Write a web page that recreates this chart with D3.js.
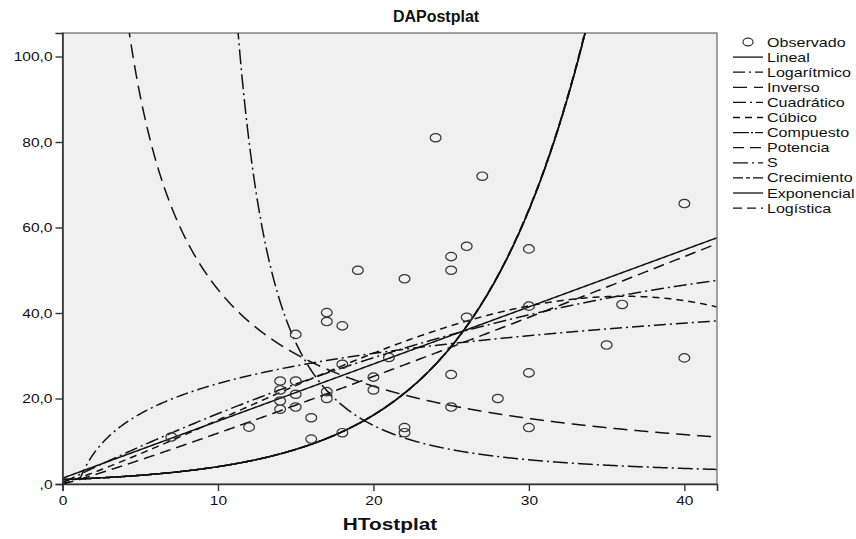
<!DOCTYPE html>
<html>
<head>
<meta charset="utf-8">
<script src="https://cdn.jsdelivr.net/npm/d3@7"></script>
<style>
  body { margin: 0; background: #fff; }
  text { font-family: "Liberation Sans", Arial, sans-serif; fill: #111; }
</style>
</head>
<body>
<svg id="chart" width="856" height="539"></svg>
<script>
// observed points (HTostplat, DAPostplat)
const obsX = [7, 12, 14, 14, 14, 14, 15, 15, 15, 15, 16, 16, 17, 17, 17, 17, 18, 18, 18, 19, 20, 20, 21, 22, 22, 22,
              24, 25, 25, 25, 25, 26, 26, 27, 28, 30, 30, 30, 30, 35, 36, 40, 40];
const obsY = [11, 13.3, 24.1, 22, 19.4, 17.5, 35, 24.1, 21, 18, 15.5, 10.5, 40.1, 38, 21.6, 20, 37, 28, 12, 50, 25, 22, 29.6, 48, 13.2, 12,
              81, 53.2, 50, 25.6, 18, 55.6, 39, 72, 20, 55, 41.6, 26, 13.2, 32.5, 42, 65.6, 29.5];

const xTicks = [0, 10, 20, 30, 40];
const yTicks = [0, 20, 40, 60, 80, 100];

const legendNames = ["Observado", "Lineal", "Logarítmico", "Inverso", "Cuadrático", "Cúbico",
                     "Compuesto", "Potencia", "S", "Crecimiento", "Exponencial", "Logística"];

// model coefficients
const linCoef = [1.35, 1.336];
const logCoef = [0, 10.2];
const invCoef = [0.25, 452.5];
const quadCoef = [0.3, 1.768, -0.0153];
const cubCoef = [0, 1.287, 0.02967, -0.000876];
const compCoef = [1.02, 1.148];
const powCoef = [0.99, 1.08];
const sCoef = [-0.033, 53];
const growCoef = [0.0198, 0.138];
const expCoef = [1.02, 0.138];
const logiCoef = [0.98, 0.871];

const models = [
  {name: "Lineal",      f: x => linCoef[0] + linCoef[1] * x, dash: null},
  {name: "Logarítmico", f: x => logCoef[0] + logCoef[1] * Math.log(x), dash: "12,4,2,4"},
  {name: "Inverso",     f: x => invCoef[0] + invCoef[1] / x, dash: "14,7"},
  {name: "Cuadrático",  f: x => quadCoef[0] + quadCoef[1] * x + quadCoef[2] * x * x, dash: "13,4,2,4"},
  {name: "Cúbico",      f: x => cubCoef[0] + cubCoef[1] * x + cubCoef[2] * x * x + cubCoef[3] * x * x * x, dash: "7,5"},
  {name: "Compuesto",   f: x => compCoef[0] * Math.pow(compCoef[1], x), dash: "16,2,2,2"},
  {name: "Potencia",    f: x => powCoef[0] * Math.pow(x, powCoef[1]), dash: "11,6"},
  {name: "S",           f: x => Math.exp(sCoef[0] + sCoef[1] / x), dash: "15,4,2,4"},
  {name: "Crecimiento", f: x => Math.exp(growCoef[0] + growCoef[1] * x), dash: "10,3,4,3"},
  {name: "Exponencial", f: x => expCoef[0] * Math.exp(expCoef[1] * x), dash: null},
  {name: "Logística",   f: x => 1 / (logiCoef[0] * Math.pow(logiCoef[1], x)), dash: "9,5"}
];

const svg = d3.select("#chart");
const plot = {left: 62.5, right: 717, top: 33, bottom: 484};

const x = d3.scaleLinear().domain([0, 42.1]).range([plot.left, plot.right]);
const y = d3.scaleLinear().domain([0, 105.5]).range([plot.bottom, plot.top]);

// plot background
svg.append("rect")
  .attr("x", plot.left).attr("y", plot.top)
  .attr("width", plot.right - plot.left).attr("height", plot.bottom - plot.top)
  .attr("fill", "#f0f0f0").attr("stroke", "#666").attr("stroke-width", 1.2);

svg.append("clipPath").attr("id", "clip")
  .append("rect")
  .attr("x", plot.left).attr("y", plot.top)
  .attr("width", plot.right - plot.left).attr("height", plot.bottom - plot.top);

// fitted curves
const xs = d3.range(0.02, 42.1, 0.04);
const line = d3.line()
  .defined(d => isFinite(d[1]) && d[1] > -50 && d[1] < 400)
  .x(d => x(d[0])).y(d => y(d[1]));

const curves = svg.append("g").attr("clip-path", "url(#clip)");
models.forEach(m => {
  curves.append("path")
    .datum(xs.map(v => [v, m.f(v)]))
    .attr("d", line)
    .attr("fill", "none")
    .attr("stroke", "#111")
    .attr("stroke-width", 1.5)
    .attr("stroke-dasharray", m.dash);
});

// observed points
svg.append("g").selectAll("ellipse")
  .data(obsX.map((v, i) => [v, obsY[i]]))
  .join("ellipse")
  .attr("cx", d => x(d[0])).attr("cy", d => y(d[1]))
  .attr("rx", 5.4).attr("ry", 4.2)
  .attr("fill", "none").attr("stroke", "#333").attr("stroke-width", 1.2);

// axes
const yAxis = svg.append("g")
  .attr("transform", `translate(${plot.left},0)`)
  .call(d3.axisLeft(y).tickValues(yTicks).tickSize(7).tickPadding(3)
    .tickFormat(d => d === 0 ? ",0" : d + ",0"));
yAxis.select(".domain").attr("stroke", "#333").attr("stroke-width", 1.6);
yAxis.selectAll(".tick line").attr("stroke", "#333").attr("stroke-width", 1.4);
yAxis.selectAll("text")
  .attr("font-size", 13.5).attr("fill", "#111")
  .attr("x", -10 / 1.15).attr("transform", "scale(1.15,1)");

const xAxis = svg.append("g")
  .attr("transform", `translate(0,${plot.bottom})`)
  .call(d3.axisBottom(x).tickValues(xTicks).tickSize(7).tickPadding(4));
xAxis.select(".domain").attr("stroke", "#333").attr("stroke-width", 1.6);
xAxis.selectAll(".tick line").attr("stroke", "#333").attr("stroke-width", 1.4);
xAxis.selectAll("text")
  .attr("font-size", 13.5).attr("fill", "#111")
  .attr("transform", "scale(1.15,1)");

// titles
svg.append("text")
  .attr("x", 436).attr("y", 22)
  .attr("text-anchor", "middle")
  .attr("font-size", 16).attr("font-weight", "bold")
  .text("DAPostplat");

svg.append("text")
  .attr("transform", "translate(390,530) scale(1.3,1)")
  .attr("text-anchor", "middle")
  .attr("font-size", 16).attr("font-weight", "bold")
  .text("HTostplat");

// legend
const legend = svg.append("g");
legendNames.forEach((name, i) => {
  const ly = 42 + i * 15.1;
  if (i === 0) {
    legend.append("ellipse")
      .attr("cx", 748).attr("cy", ly)
      .attr("rx", 5).attr("ry", 3.8)
      .attr("fill", "none").attr("stroke", "#333").attr("stroke-width", 1.2);
  } else {
    legend.append("line")
      .attr("x1", 733).attr("x2", 763).attr("y1", ly).attr("y2", ly)
      .attr("stroke", "#111").attr("stroke-width", 1.3)
      .attr("stroke-dasharray", models[i - 1].dash);
  }
  legend.append("text")
    .attr("transform", `translate(767,${ly + 4.5}) scale(1.34,1)`)
    .attr("font-size", 12)
    .text(name);
});
</script>
</body>
</html>
